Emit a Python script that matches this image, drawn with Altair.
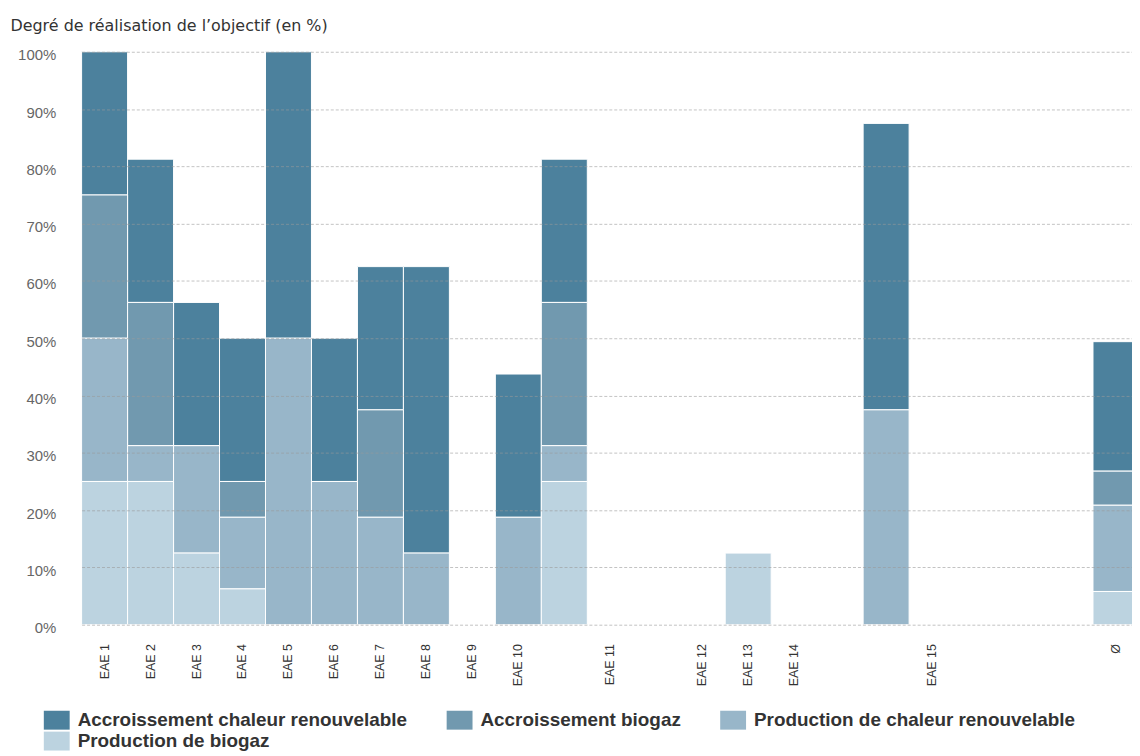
import json
import altair as alt
import pandas as pd

# ---- data -------------------------------------------------------------
slots = list(range(23))
tick_labels = ["EAE 1", "EAE 2", "EAE 3", "EAE 4", "EAE 5", "EAE 6", "EAE 7",
               "EAE 8", "EAE 9", "EAE 10", "", "EAE 11", "", "EAE 12",
               "EAE 13", "EAE 14", "", "", "EAE 15", "", "", "", "Ø"]

series = ["Accroissement chaleur renouvelable", "Accroissement biogaz",
          "Production de chaleur renouvelable", "Production de biogaz"]
colors = ["#4c819d", "#7199af", "#98b6c9", "#bcd3e0"]

accr_chaleur = [25, 25, 25, 25, 50, 25, 25, 50, 0, 25, 25, 0, 0, 0, 0, 0, 0, 50, 0, 0, 0, 0, 22.6]
accr_biogaz = [25, 25, 0, 6.25, 0, 0, 18.75, 0, 0, 0, 25, 0, 0, 0, 0, 0, 0, 0, 0, 0, 0, 0, 5.95]
prod_chaleur = [25, 6.25, 18.75, 12.5, 50, 25, 18.75, 12.5, 0, 18.75, 6.25, 0, 0, 0, 0, 0, 0, 37.5, 0, 0, 0, 0, 15.05]
prod_biogaz = [25, 25, 12.5, 6.25, 0, 0, 0, 0, 0, 0, 25, 0, 0, 0, 12.5, 0, 0, 0, 0, 0, 0, 0, 5.8]

values_by_series = [accr_chaleur, accr_biogaz, prod_chaleur, prod_biogaz]
stack_rank = [3, 2, 1, 0]  # 0 = bottom of the stack

rows = []
for name, vals, rank in zip(series, values_by_series, stack_rank):
    for s, v in zip(slots, vals):
        if v > 0:
            rows.append({"slot": s, "series": name, "value": v, "rank": rank})
df = pd.DataFrame(rows)

label_expr = json.dumps(tick_labels, ensure_ascii=False) + "[datum.value]"
legend_shape = "M-1.3,-0.95H1.3V0.95H-1.3Z"

chart = alt.Chart(df).mark_bar(stroke="white", strokeWidth=1).encode(
    x=alt.X("slot:O",
            scale=alt.Scale(domain=slots, paddingInner=0, paddingOuter=0, range=[0, 1063]),
            axis=alt.Axis(title=None, labelExpr=label_expr, labelAngle=-90,
                          labelFont="Liberation Sans", labelFontSize=12.5,
                          labelColor="#333333", ticks=False, tickSize=0,
                          labelPadding=19, domain=False, grid=False)),
    y=alt.Y("value:Q", stack="zero",
            scale=alt.Scale(domain=[0, 100], nice=False),
            axis=alt.Axis(title="Degré de réalisation de l’objectif (en %)",
                          titleAngle=0, titleAlign="left", titleBaseline="alphabetic",
                          titleX=-72, titleY=-21.7, titleFont="DejaVu Sans",
                          titleFontSize=16, titleFontWeight="normal", titleColor="#333333",
                          values=[0, 10, 20, 30, 40, 50, 60, 70, 80, 90, 100],
                          labelExpr="datum.value + '%'", labelFont="Liberation Sans",
                          labelFontSize=15, labelColor="#666666", labelPadding=26,
                          labelOffset=3, ticks=False, tickSize=0, domain=False,
                          grid=True, gridColor="#999999", gridOpacity=0.6,
                          gridDash=[3, 2], gridWidth=1, zindex=1)),
    color=alt.Color("series:N",
                    scale=alt.Scale(domain=series, range=colors),
                    legend=alt.Legend(title=None, orient="none", legendX=-35, legendY=662,
                                      direction="horizontal",
                                      columns=3, columnPadding=39, rowPadding=1,
                                      symbolType=legend_shape, symbolSize=400,
                                      symbolStrokeWidth=0, labelOffset=11,
                                      labelFont="Liberation Sans", labelFontSize=19,
                                      labelFontWeight="bold", labelColor="#333333",
                                      labelLimit=500, padding=0)),
    order=alt.Order("rank:Q", sort="ascending"),
).properties(
    width=1056, height=576,
    padding={"left": 74, "top": 42, "right": 0, "bottom": 130},
    autosize=alt.AutoSizeParams(type="none"),
).configure_view(stroke=None)

chart.save("out.html", embed_options={"renderer": "svg", "actions": False})
